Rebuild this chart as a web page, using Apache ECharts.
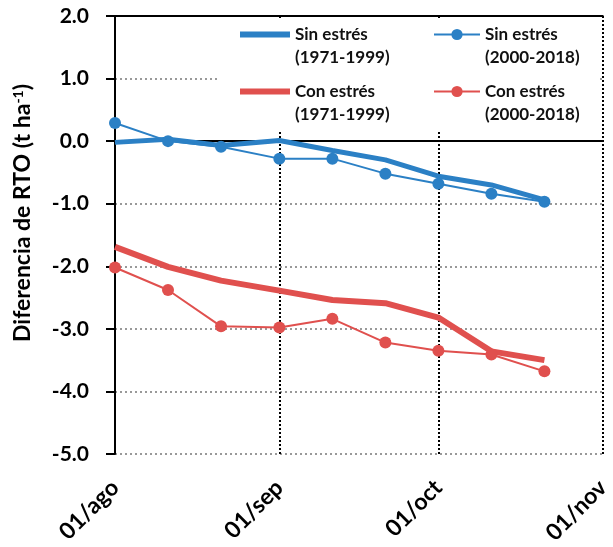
<!DOCTYPE html>
<html>
<head>
<meta charset="utf-8">
<script src="https://cdn.jsdelivr.net/npm/echarts@6/dist/echarts.min.js"></script>
<style>html,body{margin:0;padding:0;background:#fff}#c{width:613px;height:547px}</style>
</head>
<body>
<div id="c"></div>
<script>
// Days since 01/ago
var days = [0, 10, 20, 31, 41, 51, 61, 71, 81];
var monthTicks = [0, 31, 61, 92];
var monthLabels = {0: '01/ago', 31: '01/sep', 61: '01/oct', 92: '01/nov'};
var sinHist = [-0.02, 0.03, -0.07, 0.01, -0.15, -0.30, -0.56, -0.70, -0.94];
var sinRec = [0.29, 0.00, -0.09, -0.28, -0.28, -0.52, -0.68, -0.84, -0.97];
var conHist = [-1.69, -2.01, -2.23, -2.39, -2.54, -2.59, -2.82, -3.36, -3.50];
var conRec = [-2.02, -2.38, -2.96, -2.98, -2.84, -3.22, -3.35, -3.41, -3.68];
var names = ['Sin estrés\n(1971-1999)', 'Sin estrés\n(2000-2018)', 'Con estrés\n(1971-1999)', 'Con estrés\n(2000-2018)'];

var BLUE = '#2b80c5', RED = '#e0504e';
var FONT = 'Lato';
var THICK_ICON = 'path://M0,0L50,0L50,6L0,6Z';
function pairs(v) { return days.map(function (d, i) { return [d, v[i]]; }); }

var chart = echarts.init(document.getElementById('c'));
var legendText = {fontFamily: FONT, fontWeight: 'bold', fontSize: 17, lineHeight: 23, color: '#111'};
chart.setOption({
  animation: false,
  grid: {left: 115, right: 7, top: 16, bottom: 89, containLabel: false},
  graphic: [{type: 'rect', z: 3, shape: {x: 218, y: 18, width: 382, height: 114}, style: {fill: '#fff'}}],
  legend: [
    {data: [{name: names[0], icon: THICK_ICON, itemStyle: {color: BLUE}}, {name: names[2], icon: THICK_ICON, itemStyle: {color: RED}}],
     orient: 'vertical', left: 240, top: 0, padding: 0, itemGap: -12,
     itemWidth: 50, itemHeight: 14, textStyle: legendText, formatter: function (n) { return '\n' + n; }},
    {data: [names[1], names[3]], orient: 'vertical', left: 433, top: 0, padding: 0, itemGap: -12,
     itemWidth: 46, itemHeight: 14, textStyle: legendText, formatter: function (n) { return '\n' + n; }}
  ],
  xAxis: [{
    type: 'value', min: 0, max: 92,
    axisLine: {lineStyle: {color: '#000', width: 2}},
    axisTick: {show: false, customValues: monthTicks},
    axisLabel: {customValues: monthTicks, rotate: 45, margin: 30, fontFamily: FONT, fontWeight: 'bold', fontSize: 23, color: '#000',
      formatter: function (v) { return monthLabels[v] || ''; }},
    splitLine: {show: true, lineStyle: {color: '#000', type: [2, 2], width: 2}}
  }, {
    type: 'value', min: 0, max: 92, position: 'top',
    axisLine: {show: true, lineStyle: {color: '#000', width: 2}},
    axisTick: {show: false}, axisLabel: {show: false}, splitLine: {show: false}
  }],
  yAxis: {
    type: 'value', min: -5, max: 2, interval: 1,
    name: '{a|Diferencia de RTO (t ha}{s|-1}{a|)}',
    nameLocation: 'middle', nameGap: 80,
    nameTextStyle: {padding: [0, 0, 0, 44], rich: {
      a: {fontFamily: FONT, fontWeight: 'bold', fontSize: 23, color: '#000'},
      s: {fontFamily: FONT, fontWeight: 'bold', fontSize: 14, color: '#000', padding: [0, 0, 10, 0]}}},
    axisLine: {show: true, lineStyle: {color: '#000', width: 2}},
    axisTick: {show: true, length: 9, lineStyle: {color: '#000', width: 2}},
    axisLabel: {margin: 26, fontFamily: FONT, fontWeight: 'bold', fontSize: 21, color: '#000',
      formatter: function (v) { return v.toFixed(1); }},
    splitLine: {show: true, lineStyle: {color: '#999', type: [2, 3], width: 2}}
  },
  series: [
    {name: names[0], type: 'line', data: pairs(sinHist), symbol: 'none', lineStyle: {color: BLUE, width: 5}, itemStyle: {color: BLUE}, z: 2},
    {name: names[1], type: 'line', data: pairs(sinRec), symbol: 'circle', symbolSize: 12, lineStyle: {color: BLUE, width: 2}, itemStyle: {color: BLUE}, z: 2},
    {name: names[2], type: 'line', data: pairs(conHist), symbol: 'none', lineStyle: {color: RED, width: 6}, itemStyle: {color: RED}, z: 2},
    {name: names[3], type: 'line', data: pairs(conRec), symbol: 'circle', symbolSize: 12, lineStyle: {color: RED, width: 2}, itemStyle: {color: RED}, z: 2}
  ]
});
</script>
</body>
</html>
